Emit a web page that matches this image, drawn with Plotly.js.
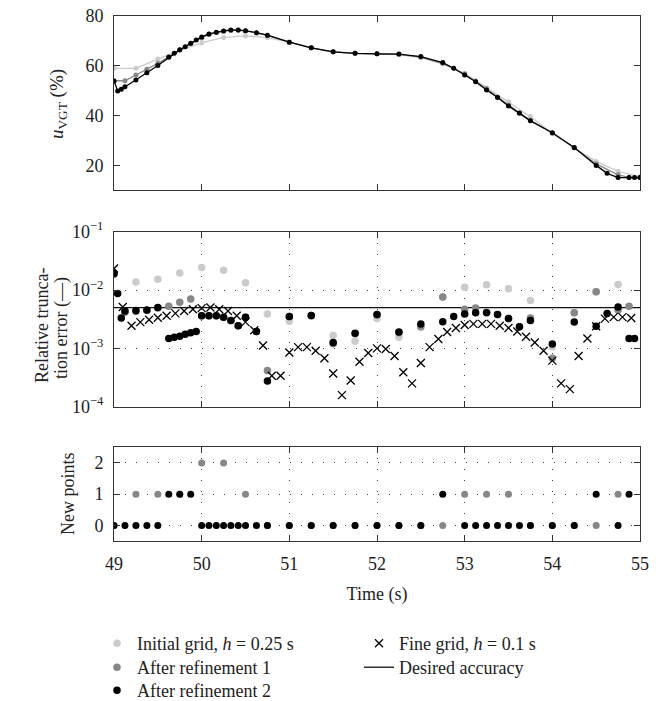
<!DOCTYPE html>
<html>
<head>
<meta charset="utf-8">
<script src="https://cdn.plot.ly/plotly-3.0.1.min.js"></script>
<style>html,body{margin:0;padding:0;background:#fff;}</style>
</head>
<body>
<div id="chart" style="width:669px;height:701px;"></div>
<script>
// ---------- data ----------
// Control signal u_VGT (%) on the three grids
const tInit = [49,49.25,49.5,49.75,50,50.25,50.5,50.75,51,51.25,51.5,51.75,52,52.25,52.5,52.75,53,53.25,53.5,53.75,54,54.25,54.5,54.75,55];
const uInit = [59,59,62.7,66.2,69.2,71.4,72.0,71.3,69.5,67.2,65.6,65.0,64.8,64.5,63.2,60.8,57.0,51.2,45.6,39.6,32.8,27.0,21.6,17.6,15.5];

const tRef1 = [49,49.125,49.25,49.375,49.5,49.625,49.75,49.875,50,50.083,50.167,50.25,50.333,50.417,50.5,50.625,50.75,51,51.25,51.5,51.75,52,52.25,52.5,52.75,53,53.125,53.25,53.375,53.5,53.625,53.75,54,54.25,54.5,54.75,54.875,55];
const uRef1 = [54,54,56.3,58.6,61.0,63.6,66.3,68.9,71.2,72.6,73.4,73.9,74.2,74.3,74.0,73.2,72.2,69.5,67.2,65.6,65.0,64.8,64.6,63.5,61.0,56.7,53.9,50.8,47.5,44.2,41.1,38.1,33.0,27.1,20.6,16.2,15.2,15.1];

const tRef2 = [49,49.042,49.083,49.125,49.25,49.375,49.5,49.625,49.6875,49.75,49.8125,49.875,49.9375,50,50.083,50.167,50.25,50.333,50.417,50.5,50.625,50.75,51,51.25,51.5,51.75,52,52.25,52.5,52.75,52.875,53,53.125,53.25,53.375,53.5,53.625,53.75,54,54.25,54.5,54.625,54.75,54.875,54.9375,55];
const uRef2 = [53.9,49.9,50.6,51.6,54.3,57.2,60.1,63.4,65.0,66.4,67.7,69.1,70.4,71.6,72.8,73.5,74.0,74.4,74.4,74.1,73.3,72.3,69.5,67.2,65.6,65.0,64.8,64.7,63.7,61.3,59.0,56.3,53.6,50.3,47.3,43.9,40.9,37.9,33.1,27.2,20.0,16.8,15.1,15.1,15.1,15.1];

// Relative truncation error (one value per interval, plotted at its left grid point)
const errInit = [0.0191,0.0137,0.0153,0.0196,0.0243,0.0219,0.0134,0.00387,0.00292,0.00355,0.00166,0.00132,0.00324,0.00155,0.00229,0.00759,0.0112,0.0123,0.0105,0.0066,0.00107,0.00407,0.00933,0.0124];
const errRef1 = [0.0191,0.00417,0.00427,0.00447,0.00490,0.00525,0.00617,0.00700,0.00363,0.00363,0.00363,0.00343,0.00302,0.00245,0.00343,0.00195,0.000417,0.00351,0.00366,0.00120,0.00178,0.00372,0.00186,0.00237,0.00759,0.00468,0.00490,0.00417,0.00380,0.00324,0.00234,0.00331,0.000676,0.00407,0.00933,0.00457,0.00525];
const errRef2 = [0.0191,0.00871,0.00331,0.00437,0.00447,0.00457,0.00501,0.00148,0.00155,0.00162,0.00174,0.00186,0.00195,0.00363,0.00363,0.00363,0.00343,0.00302,0.00245,0.00343,0.00195,0.000275,0.00351,0.00366,0.00126,0.00182,0.00380,0.00191,0.00263,0.00285,0.00352,0.00389,0.00407,0.00407,0.00380,0.00324,0.00234,0.00302,0.00119,0.00282,0.00240,0.00398,0.00513,0.00148,0.00148];

const tFine = [49.0,49.1,49.2,49.3,49.4,49.5,49.6,49.7,49.8,49.9,50.0,50.1,50.2,50.3,50.4,50.5,50.6,50.7,50.8,50.9,51.0,51.1,51.2,51.3,51.4,51.5,51.6,51.7,51.8,51.9,52.0,52.1,52.2,52.3,52.4,52.5,52.6,52.7,52.8,52.9,53.0,53.1,53.2,53.3,53.4,53.5,53.6,53.7,53.8,53.9,54.0,54.1,54.2,54.3,54.4,54.5,54.6,54.7,54.8,54.9];
const errFine = [0.0234,0.00513,0.00245,0.00282,0.00309,0.00334,0.00363,0.00398,0.00437,0.00468,0.00490,0.00501,0.00468,0.00437,0.00363,0.00282,0.00204,0.00112,0.000339,0.000339,0.000851,0.00105,0.00105,0.000912,0.000676,0.000372,0.000158,0.000282,0.000589,0.000832,0.00100,0.000977,0.000741,0.000389,0.000251,0.000562,0.00105,0.00145,0.00191,0.00224,0.00251,0.00263,0.00263,0.00263,0.00245,0.00224,0.00195,0.00158,0.00126,0.000912,0.000617,0.000251,0.000200,0.000741,0.00148,0.00240,0.00324,0.00343,0.00343,0.00331];

const desiredAccuracy = 5e-3;
const timeRange = [49, 55];

// New points inserted in each interval
const newPtsRef1 = [0,1,1,1,2,2,1,0,0,0,0,0,0,0,0,0,1,1,1,0,0,0,0,1];   // on the initial grid
const newPtsRef2 = [0,0,0,0,0,1,1,1,0,0,0,0,0,0,0,0,0,0,0,0,0,0,0,0,1,0,0,0,0,0,0,0,0,0,1,0,1]; // on the grid after refinement 1

const xTicks = [49,50,51,52,53,54,55];
const uTicks = [20,40,60,80];
const errTicks = [1e-4,1e-3,1e-2,1e-1];
const errTickText = ['10<sup>−4</sup>','10<sup>−3</sup>','10<sup>−2</sup>','10<sup>−1</sup>'];
const newTicks = [0,1,2];

// ---------- styling ----------
const cLight = '#cbcbcb', cMid = '#878787', cDark = '#000000';
const FONT = 'Liberation Serif, Times New Roman, serif';
const TXT = '#222';

const traces = [
  // top panel
  {x: tInit, y: uInit, xaxis:'x', yaxis:'y', mode:'lines+markers', showlegend:false,
   line:{color:cLight, width:1.3}, marker:{color:cLight, size:5}},
  {x: tRef1, y: uRef1, xaxis:'x', yaxis:'y', mode:'lines+markers', showlegend:false,
   line:{color:cMid, width:1.3}, marker:{color:cMid, size:5}},
  {x: tRef2, y: uRef2, xaxis:'x', yaxis:'y', mode:'lines+markers', showlegend:false,
   line:{color:cDark, width:1.3}, marker:{color:cDark, size:5}},
  // middle panel
  {x: timeRange, y: [desiredAccuracy, desiredAccuracy], xaxis:'x2', yaxis:'y2', mode:'lines', name:'Desired accuracy',
   line:{color:'#111', width:1.3}, legend:'legend5'},
  {x: tInit.slice(0, errInit.length), y: errInit, xaxis:'x2', yaxis:'y2', mode:'markers', name:'Initial grid, <i>h</i> = 0.25 s',
   marker:{color:cLight, size:7.5}, legend:'legend'},
  {x: tRef1.slice(0, errRef1.length), y: errRef1, xaxis:'x2', yaxis:'y2', mode:'markers', name:'After refinement 1',
   marker:{color:cMid, size:7.5}, legend:'legend2'},
  {x: tRef2.slice(0, errRef2.length), y: errRef2, xaxis:'x2', yaxis:'y2', mode:'markers', name:'After refinement 2',
   marker:{color:cDark, size:7.5}, legend:'legend3'},
  {x: tFine, y: errFine, xaxis:'x2', yaxis:'y2', mode:'markers', name:'Fine grid, <i>h</i> = 0.1 s',
   marker:{symbol:'x-thin', size:8, line:{color:'#000', width:1.3}}, legend:'legend4'},
  // bottom panel
  {x: tInit.slice(0, newPtsRef1.length), y: newPtsRef1, xaxis:'x3', yaxis:'y3', mode:'markers', showlegend:false,
   marker:{color:cMid, size:7}},
  {x: tRef1.slice(0, newPtsRef2.length), y: newPtsRef2, xaxis:'x3', yaxis:'y3', mode:'markers', showlegend:false,
   marker:{color:cDark, size:7}}
];

const axCommon = {
  showline:true, linecolor:'#333', linewidth:1, mirror:'allticks',
  ticks:'inside', ticklen:6, tickcolor:'#333', tickwidth:1,
  zeroline:false, tickfont:{family:FONT, size:18, color:TXT}
};
const gridStyle = {showgrid:true, gridcolor:'#444', gridwidth:1, griddash:'1px,10px'};

// plot area: x 114..640 px, y 16..541 px
const px2x = p => (p - 114) / 526;
const px2y = p => (541 - p) / 525;

function legendAt(left, top, iw) {
  return {x: px2x(left), y: px2y(top), xanchor:'left', yanchor:'top', orientation:'v',
    bgcolor:'rgba(0,0,0,0)', borderwidth:0, itemwidth: iw || 30,
    font:{family:FONT, size:18, color:TXT}};
}

const titleFont = {family:FONT, size:18, color:TXT};

const layout = {
  width:669, height:701,
  margin:{l:114, r:29, t:16, b:160, autoexpand:false},
  paper_bgcolor:'#fff', plot_bgcolor:'#fff',
  font:{family:FONT, size:18, color:TXT},
  xaxis: Object.assign({}, axCommon, {anchor:'y', range:timeRange, tickvals:xTicks.slice(1,6), showticklabels:false, showgrid:false}),
  yaxis: Object.assign({}, axCommon, {domain:[0.668,1], range:[10,80], tickvals:uTicks, showgrid:false, ticklabelstandoff:6}),
  xaxis2: Object.assign({}, axCommon, gridStyle, {anchor:'y2', range:timeRange, tickvals:xTicks.slice(1,6), showticklabels:false}),
  yaxis2: Object.assign({}, axCommon, gridStyle, {domain:[0.2558,0.5891], type:'log', range:[-4,-1],
    tickvals:errTicks, ticktext:errTickText, ticklabelstandoff:6}),
  xaxis3: Object.assign({}, axCommon, gridStyle, {anchor:'y3', range:timeRange, tickvals:xTicks, ticklabelstandoff:6,
    title:{text:'Time (s)', standoff:14, font:titleFont}}),
  yaxis3: Object.assign({}, axCommon, gridStyle, {domain:[0,0.1785], range:[-0.5,2.5], tickvals:newTicks, ticklabelstandoff:6}),
  annotations:[
    {text:'<i>u</i><sub>VGT</sub> (%)', xref:'paper', yref:'paper', x:px2x(58), y:px2y(104), textangle:-90,
     showarrow:false, xanchor:'center', yanchor:'middle', font:{family:FONT, size:19, color:TXT}},
    {text:'Relative trunca-', xref:'paper', yref:'paper', x:px2x(42), y:px2y(326), textangle:-90,
     showarrow:false, xanchor:'center', yanchor:'middle', font:titleFont},
    {text:'tion error (—)', xref:'paper', yref:'paper', x:px2x(61), y:px2y(328), textangle:-90,
     showarrow:false, xanchor:'center', yanchor:'middle', font:titleFont},
    {text:'New points', xref:'paper', yref:'paper', x:px2x(68), y:px2y(494), textangle:-90,
     showarrow:false, xanchor:'center', yanchor:'middle', font:titleFont}
  ],
  legend:  legendAt(97, 625),
  legend2: legendAt(97, 649),
  legend3: legendAt(97, 672),
  legend4: legendAt(359, 625),
  legend5: legendAt(359, 649),
  showlegend:true
};

Plotly.newPlot('chart', traces, layout, {displayModeBar:false, staticPlot:true});
</script>
</body>
</html>
